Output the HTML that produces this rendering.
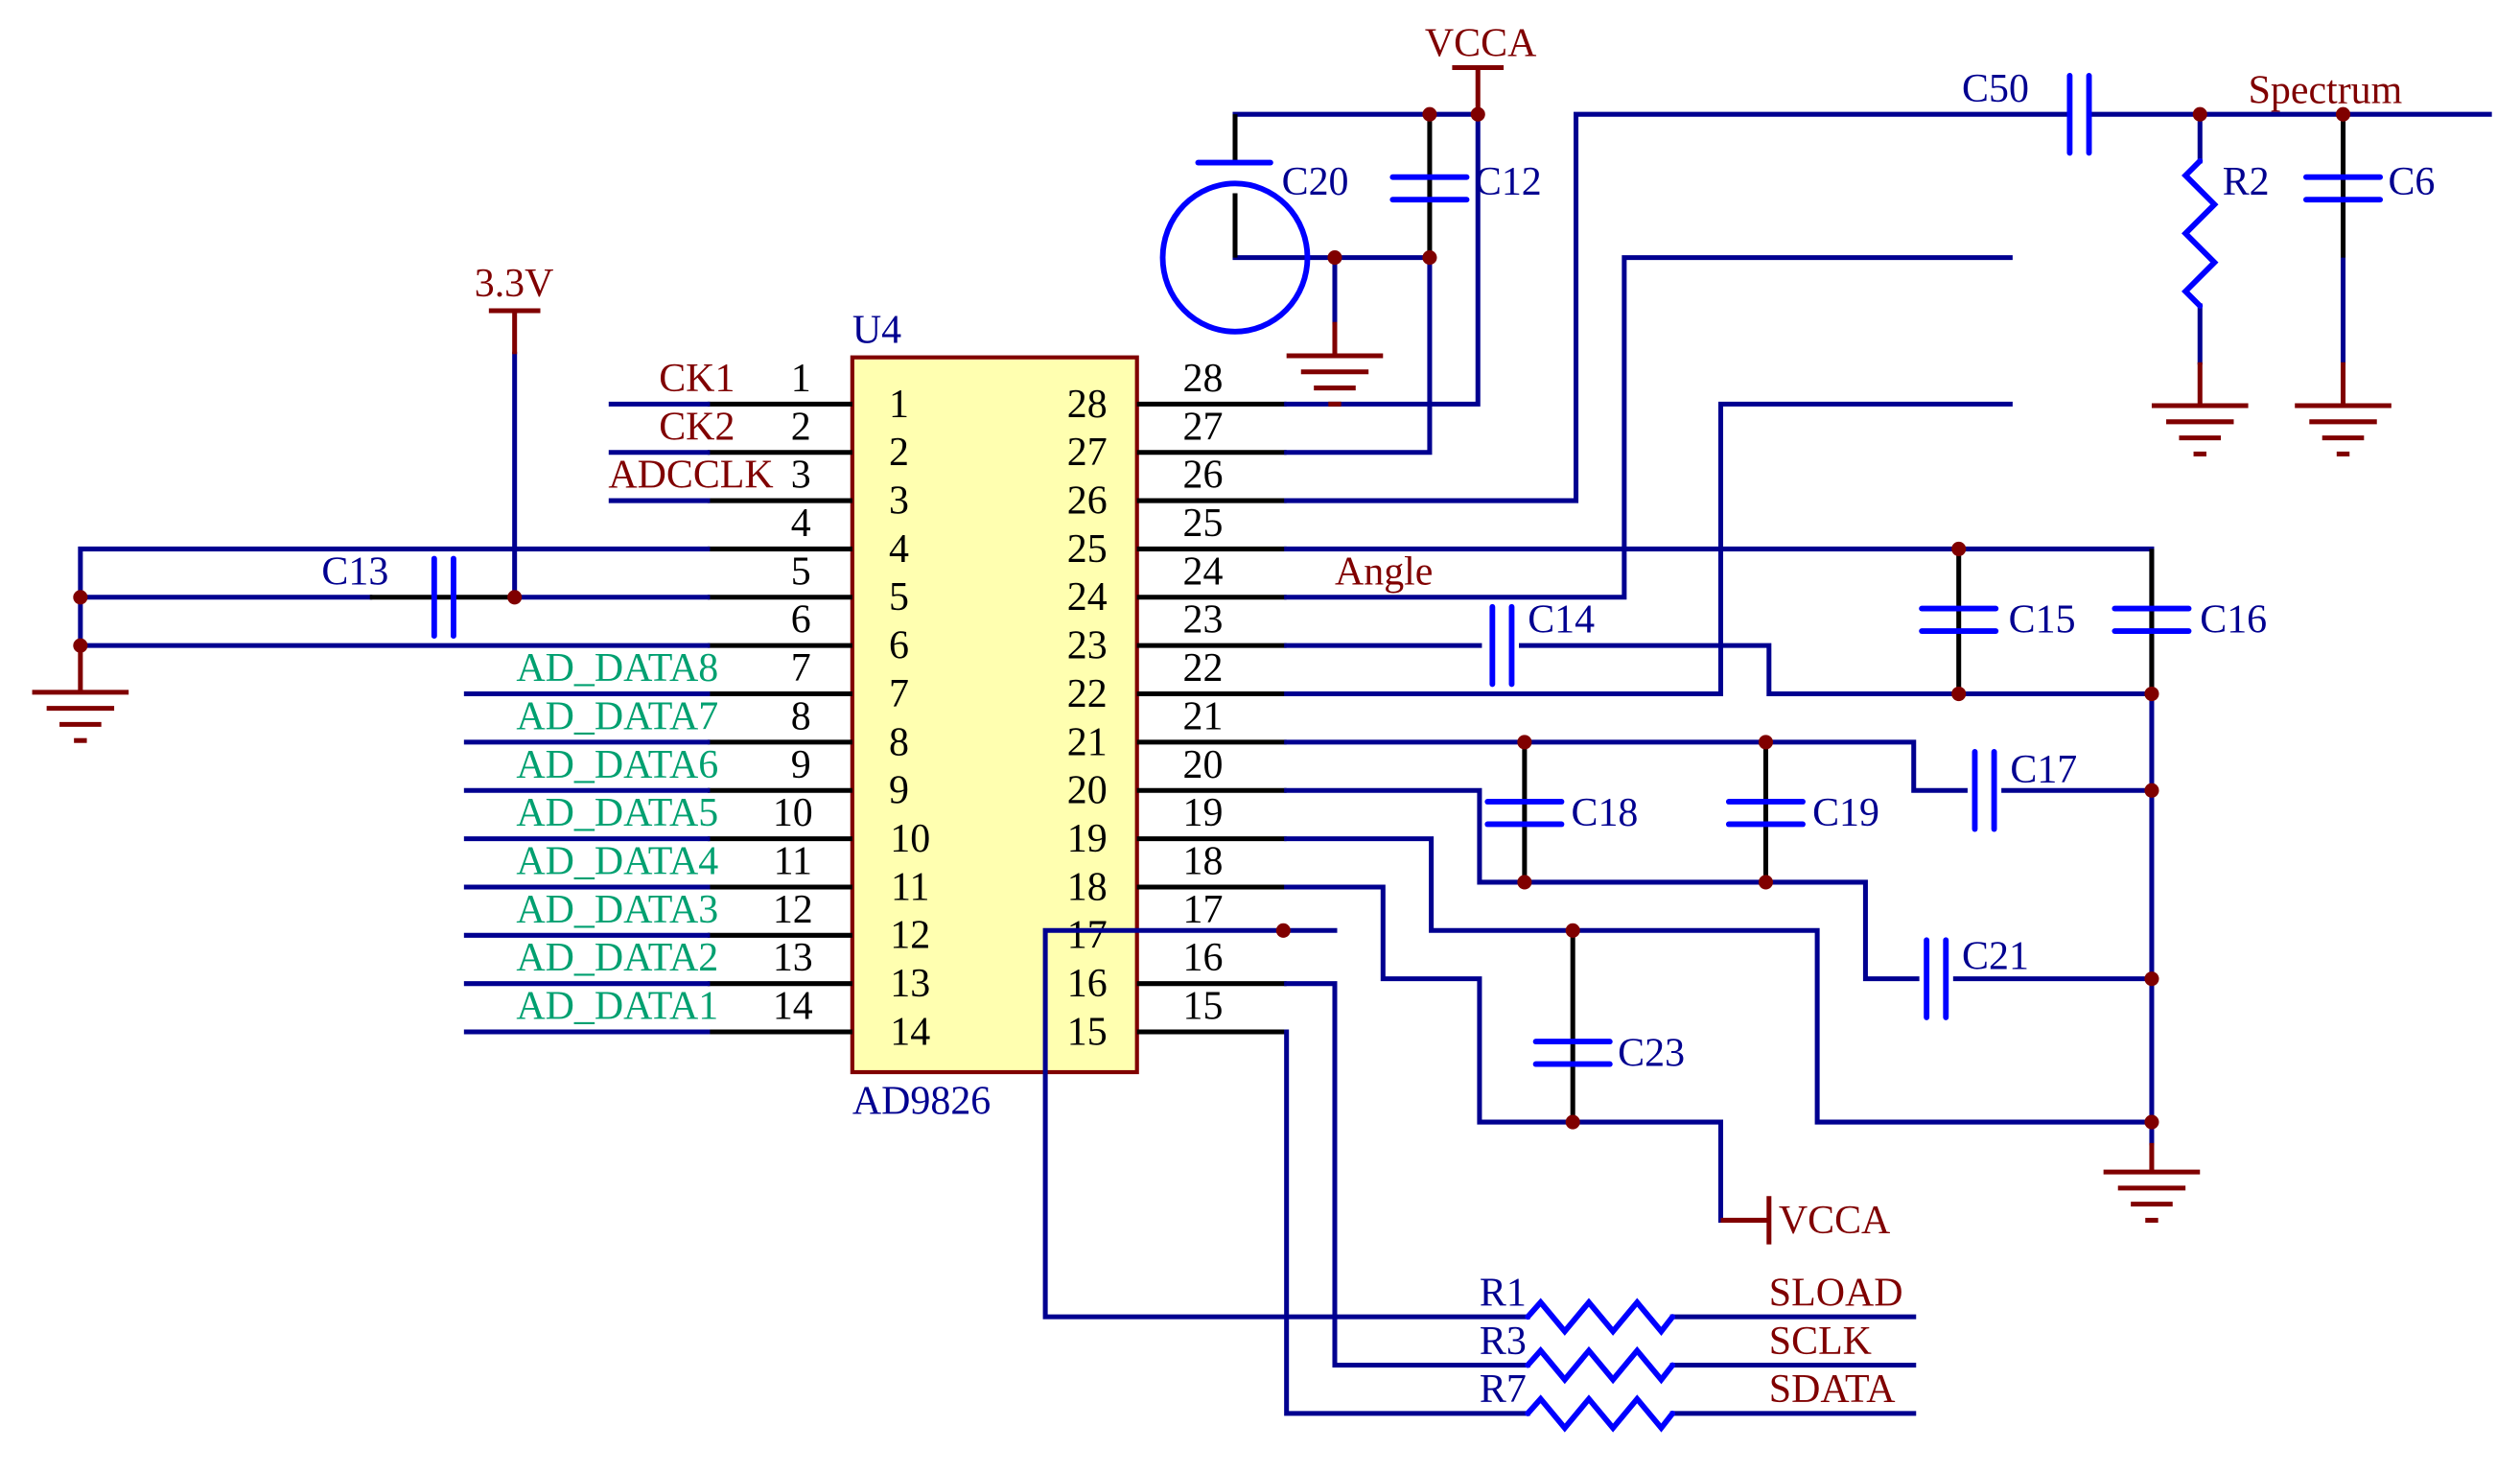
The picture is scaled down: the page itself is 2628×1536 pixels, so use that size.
<!DOCTYPE html>
<html><head><meta charset="utf-8"><style>
html,body{margin:0;padding:0;background:#fff;}
svg{display:block;}
text{font-family:"Liberation Serif",serif;font-size:25px;}
.w{stroke:#000090;stroke-width:3;fill:none;stroke-linecap:square;}
.k{stroke:#000;stroke-width:3;fill:none;}
.r{stroke:#800000;stroke-width:3;fill:none;}
.c{stroke:#0000ff;stroke-width:3.5;fill:none;stroke-linecap:round;}
.red{fill:#800000;}
.blu{fill:#000090;}
.grn{fill:#00a070;}
.blk{fill:#000;}
</style></head><body>
<svg width="2628" height="1536" viewBox="0 0 1567 915" preserveAspectRatio="none" xmlns="http://www.w3.org/2000/svg">
<defs>
<g id="gnd"><line class="r" x1="-30" y1="0" x2="30" y2="0"/><line class="r" x1="-21" y1="10" x2="21" y2="10"/><line class="r" x1="-13" y1="20" x2="13" y2="20"/><line class="r" x1="-4" y1="30" x2="4" y2="30"/></g>
<g id="capv"><line class="c" x1="-23" y1="-7" x2="23" y2="-7"/><line class="c" x1="-23" y1="7" x2="23" y2="7"/></g>
<g id="caph"><line class="c" x1="-6" y1="-24" x2="-6" y2="24"/><line class="c" x1="6" y1="-24" x2="6" y2="24"/></g>
<g id="resh"><polyline class="c" points="0,0 8,-9 23,9 38,-9 53,9 68,-9 83,9 90,0"/></g>
</defs>

<rect x="530" y="222" width="177" height="444" fill="#ffffb0" stroke="#800000" stroke-width="2.5"/>
<text x="530" y="213" class="blu">U4</text>
<text x="530" y="692" class="blu">AD9826</text>

<g class="k">
<line x1="440" y1="251" x2="530" y2="251"/><line x1="440" y1="281" x2="530" y2="281"/><line x1="440" y1="311" x2="530" y2="311"/><line x1="440" y1="341" x2="530" y2="341"/><line x1="440" y1="371" x2="530" y2="371"/><line x1="440" y1="401" x2="530" y2="401"/><line x1="440" y1="431" x2="530" y2="431"/><line x1="440" y1="461" x2="530" y2="461"/><line x1="440" y1="491" x2="530" y2="491"/><line x1="440" y1="521" x2="530" y2="521"/><line x1="440" y1="551" x2="530" y2="551"/><line x1="440" y1="581" x2="530" y2="581"/><line x1="440" y1="611" x2="530" y2="611"/><line x1="440" y1="641" x2="530" y2="641"/>
<line x1="707" y1="251" x2="800" y2="251"/><line x1="707" y1="281" x2="800" y2="281"/><line x1="707" y1="311" x2="800" y2="311"/><line x1="707" y1="341" x2="800" y2="341"/><line x1="707" y1="371" x2="800" y2="371"/><line x1="707" y1="401" x2="800" y2="401"/><line x1="707" y1="431" x2="800" y2="431"/><line x1="707" y1="461" x2="800" y2="461"/><line x1="707" y1="491" x2="800" y2="491"/><line x1="707" y1="521" x2="800" y2="521"/><line x1="707" y1="551" x2="800" y2="551"/><line x1="707" y1="611" x2="800" y2="611"/><line x1="707" y1="641" x2="800" y2="641"/>
</g>
<g class="blk" text-anchor="middle">
<text x="498" y="243">1</text><text x="498" y="273">2</text><text x="498" y="303">3</text><text x="498" y="333">4</text><text x="498" y="363">5</text><text x="498" y="393">6</text><text x="498" y="423">7</text><text x="498" y="453">8</text><text x="498" y="483">9</text><text x="493" y="513">10</text><text x="493" y="543">11</text><text x="493" y="573">12</text><text x="493" y="603">13</text><text x="493" y="633">14</text>
<text x="559" y="259">1</text><text x="559" y="289">2</text><text x="559" y="319">3</text><text x="559" y="349">4</text><text x="559" y="379">5</text><text x="559" y="409">6</text><text x="559" y="439">7</text><text x="559" y="469">8</text><text x="559" y="499">9</text><text x="566" y="529">10</text><text x="566" y="559">11</text><text x="566" y="589">12</text><text x="566" y="619">13</text><text x="566" y="649">14</text>
<text x="676" y="259">28</text><text x="676" y="289">27</text><text x="676" y="319">26</text><text x="676" y="349">25</text><text x="676" y="379">24</text><text x="676" y="409">23</text><text x="676" y="439">22</text><text x="676" y="469">21</text><text x="676" y="499">20</text><text x="676" y="529">19</text><text x="676" y="559">18</text><text x="676" y="589">17</text><text x="676" y="619">16</text><text x="676" y="649">15</text>
<text x="748" y="243">28</text><text x="748" y="273">27</text><text x="748" y="303">26</text><text x="748" y="333">25</text><text x="748" y="363">24</text><text x="748" y="393">23</text><text x="748" y="423">22</text><text x="748" y="453">21</text><text x="748" y="483">20</text><text x="748" y="513">19</text><text x="748" y="543">18</text><text x="748" y="573">17</text><text x="748" y="603">16</text><text x="748" y="633">15</text>
</g>

<g class="w">
<line x1="380" y1="251" x2="440" y2="251"/><line x1="380" y1="281" x2="440" y2="281"/><line x1="380" y1="311" x2="440" y2="311"/>
<polyline points="440,341 50,341 50,401 440,401"/>
<line x1="50" y1="371" x2="230" y2="371"/><line x1="320" y1="371" x2="440" y2="371"/>
<line x1="320" y1="220" x2="320" y2="371"/>
<line x1="290" y1="431" x2="440" y2="431"/><line x1="290" y1="461" x2="440" y2="461"/><line x1="290" y1="491" x2="440" y2="491"/><line x1="290" y1="521" x2="440" y2="521"/><line x1="290" y1="551" x2="440" y2="551"/><line x1="290" y1="581" x2="440" y2="581"/><line x1="290" y1="611" x2="440" y2="611"/><line x1="290" y1="641" x2="440" y2="641"/>
</g>
<g class="k"><line x1="230" y1="371" x2="320" y2="371"/></g>
<use href="#caph" x="276" y="371"/>
<text x="200" y="363" class="blu">C13</text>
<line class="r" x1="50" y1="401" x2="50" y2="430"/>
<use href="#gnd" x="50" y="430"/>
<line class="r" x1="320" y1="193" x2="320" y2="220"/>
<line class="r" x1="304" y1="193" x2="336" y2="193"/>
<text x="295" y="184" class="red">3.3V</text>
<g class="red" text-anchor="end">
<text x="457" y="243">CK1</text><text x="457" y="273">CK2</text><text x="481" y="303">ADCCLK</text>
</g>
<g class="grn" text-anchor="start">
<text x="321" y="423">AD_DATA8</text><text x="321" y="453">AD_DATA7</text><text x="321" y="483">AD_DATA6</text><text x="321" y="513">AD_DATA5</text><text x="321" y="543">AD_DATA4</text><text x="321" y="573">AD_DATA3</text><text x="321" y="603">AD_DATA2</text><text x="321" y="633">AD_DATA1</text>
</g>

<text x="886" y="35" class="red">VCCA</text>
<line class="r" x1="903" y1="42" x2="935" y2="42"/>
<line class="r" x1="919" y1="42" x2="919" y2="71"/>
<g class="w">
<polyline points="800,251 919,251 919,71 768,71"/>
<polyline points="800,281 889,281 889,160 768,160"/>
<line x1="830" y1="160" x2="830" y2="200"/>
</g>
<line class="k" x1="768" y1="71" x2="768" y2="100"/>
<line class="k" x1="768" y1="120" x2="768" y2="160"/>
<line class="c" x1="745" y1="101" x2="790" y2="101"/>
<ellipse cx="768" cy="160" rx="45" ry="46" fill="none" stroke="#0000ff" stroke-width="3.5"/>
<text x="797" y="121" class="blu">C20</text>
<line class="k" x1="889" y1="71" x2="889" y2="160"/>
<use href="#capv" x="889" y="117"/>
<text x="917" y="121" class="blu">C12</text>
<line class="r" x1="830" y1="200" x2="830" y2="221"/>
<use href="#gnd" x="830" y="221"/>

<g class="w">
<polyline points="800,311 980,311 980,71 1285,71"/>
<line x1="1300" y1="71" x2="1548" y2="71"/>
<line x1="1368" y1="71" x2="1368" y2="100"/>
<line x1="1368" y1="190" x2="1368" y2="225"/>
<line x1="1457" y1="71" x2="1457" y2="225"/>
</g>
<use href="#caph" x="1293" y="71"/>
<text x="1220" y="63" class="blu">C50</text>
<text x="1398" y="64" class="red">Spectrum</text>
<polyline class="c" points="1368,100 1359,109 1377,127 1359,145 1377,163 1359,181 1368,190"/>
<text x="1382" y="121" class="blu">R2</text>
<line class="k" x1="1457" y1="71" x2="1457" y2="160"/>
<use href="#capv" x="1457" y="117"/>
<text x="1485" y="121" class="blu">C6</text>
<line class="r" x1="1368" y1="225" x2="1368" y2="252"/>
<line class="r" x1="1457" y1="225" x2="1457" y2="252"/>
<use href="#gnd" x="1368" y="252"/>
<use href="#gnd" x="1457" y="252"/>

<g class="w">
<polyline points="800,341 1338,341 1338,697"/>
<polyline points="800,371 1010,371 1010,160 1250,160"/>
<line x1="800" y1="401" x2="920" y2="401"/>
<polyline points="946,401 1100,401 1100,431 1338,431"/>
<polyline points="800,431 1070,431 1070,251 1250,251"/>
<polyline points="800,461 1190,461 1190,491 1222,491"/>
<line x1="1246" y1="491" x2="1338" y2="491"/>
<polyline points="800,491 920,491 920,548 1160,548 1160,608 1192,608"/>
<line x1="1216" y1="608" x2="1338" y2="608"/>
<polyline points="800,521 890,521 890,578 1130,578 1130,697 1338,697"/>
<polyline points="800,551 860,551 860,608 920,608 920,697 1070,697 1070,758"/>
<polyline points="830,578 650,578 650,818 950,818"/>
<polyline points="800,611 830,611 830,848 950,848"/>
<polyline points="800,641 800,878 950,878"/>
<line x1="1040" y1="818" x2="1190" y2="818"/>
<line x1="1040" y1="848" x2="1190" y2="848"/>
<line x1="1040" y1="878" x2="1190" y2="878"/>
<line x1="1338" y1="697" x2="1338" y2="710"/>
</g>
<text x="830" y="363" class="red">Angle</text>
<use href="#caph" x="934" y="401"/>
<text x="950" y="393" class="blu">C14</text>
<line class="k" x1="1218" y1="341" x2="1218" y2="431"/>
<use href="#capv" x="1218" y="385"/>
<text x="1249" y="393" class="blu">C15</text>
<line class="k" x1="1338" y1="341" x2="1338" y2="431"/>
<use href="#capv" x="1338" y="385"/>
<text x="1368" y="393" class="blu">C16</text>
<use href="#caph" x="1234" y="491"/>
<text x="1250" y="486" class="blu">C17</text>
<line class="k" x1="948" y1="461" x2="948" y2="548"/>
<use href="#capv" x="948" y="505"/>
<text x="977" y="513" class="blu">C18</text>
<line class="k" x1="1098" y1="461" x2="1098" y2="548"/>
<use href="#capv" x="1098" y="505"/>
<text x="1127" y="513" class="blu">C19</text>
<use href="#caph" x="1204" y="608"/>
<text x="1220" y="602" class="blu">C21</text>
<line class="k" x1="978" y1="578" x2="978" y2="697"/>
<use href="#capv" x="978" y="654"/>
<text x="1006" y="662" class="blu">C23</text>
<line class="r" x1="1070" y1="758" x2="1100" y2="758"/>
<line class="r" x1="1100" y1="743" x2="1100" y2="773"/>
<text x="1106" y="766" class="red">VCCA</text>
<line class="r" x1="1338" y1="710" x2="1338" y2="728"/>
<use href="#gnd" x="1338" y="728"/>

<use href="#resh" x="950" y="818"/>
<use href="#resh" x="950" y="848"/>
<use href="#resh" x="950" y="878"/>
<text x="920" y="811" class="blu">R1</text>
<text x="920" y="841" class="blu">R3</text>
<text x="920" y="871" class="blu">R7</text>
<text x="1100" y="811" class="red">SLOAD</text>
<text x="1100" y="841" class="red">SCLK</text>
<text x="1100" y="871" class="red">SDATA</text>

<g class="red">
<circle cx="50" cy="371" r="4.5"/><circle cx="50" cy="401" r="4.5"/><circle cx="320" cy="371" r="4.5"/>
<circle cx="889" cy="71" r="4.5"/><circle cx="919" cy="71" r="4.5"/><circle cx="830" cy="160" r="4.5"/><circle cx="889" cy="160" r="4.5"/>
<circle cx="1368" cy="71" r="4.5"/><circle cx="1457" cy="71" r="4.5"/>
<circle cx="1218" cy="341" r="4.5"/><circle cx="1218" cy="431" r="4.5"/><circle cx="1338" cy="431" r="4.5"/>
<circle cx="948" cy="461" r="4.5"/><circle cx="1098" cy="461" r="4.5"/><circle cx="948" cy="548" r="4.5"/><circle cx="1098" cy="548" r="4.5"/>
<circle cx="1338" cy="491" r="4.5"/><circle cx="1338" cy="608" r="4.5"/><circle cx="1338" cy="697" r="4.5"/>
<circle cx="978" cy="578" r="4.5"/><circle cx="978" cy="697" r="4.5"/><circle cx="798" cy="578" r="4.5"/>
</g>
</svg>
</body></html>
